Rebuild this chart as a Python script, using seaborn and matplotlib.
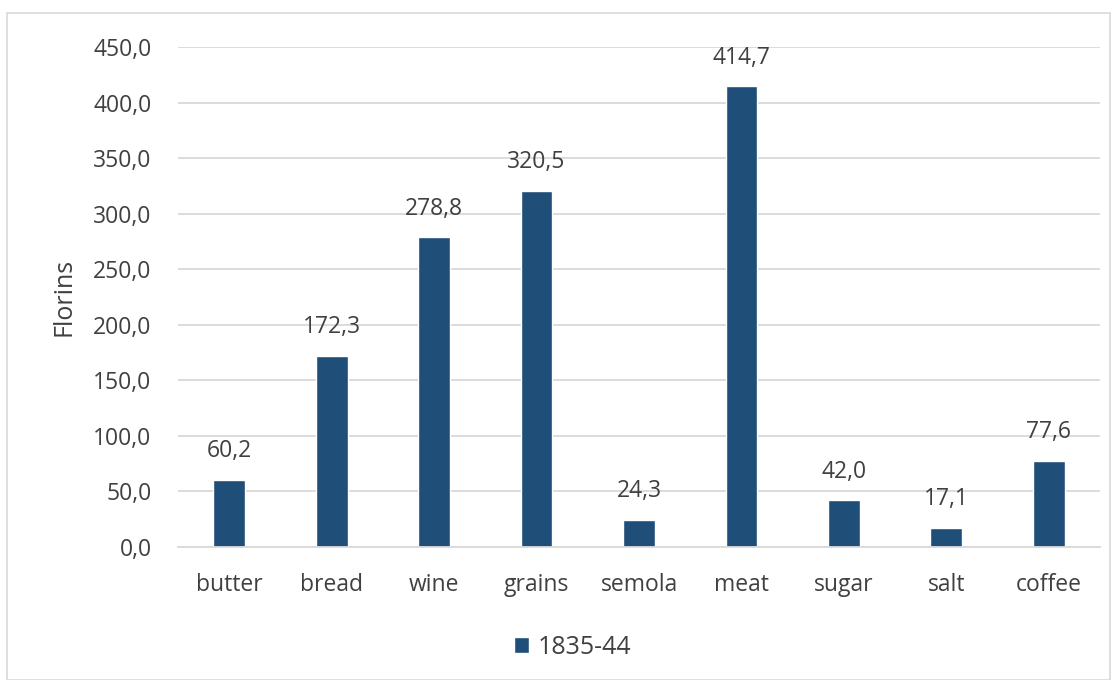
import matplotlib
matplotlib.use("Agg")
import matplotlib.pyplot as plt
import seaborn as sns
import pandas as pd
from matplotlib.patches import Rectangle
from matplotlib.ticker import FuncFormatter

categories = ["butter", "bread", "wine", "grains", "semola", "meat", "sugar", "salt", "coffee"]
values = [60.2, 172.3, 278.8, 320.5, 24.3, 414.7, 42.0, 17.1, 77.6]
series_name = "1835-44"

df = pd.DataFrame({"item": categories, "florins": values})

sns.set_style("white")
plt.rcParams['font.family'] = ['Open Sans', 'DejaVu Sans']
text_color = "#404040"
bar_color = "#1F4E79"
fs = 16.5

fig = plt.figure(figsize=(11.17, 6.8), dpi=100)
ax = fig.add_axes([0.1594, 0.1956, 0.8254, 0.7353])

sns.barplot(data=df, x="item", y="florins", color=bar_color, width=0.31,
            saturation=1, label=series_name, ax=ax)
handles, labels = ax.get_legend_handles_labels()
if ax.get_legend() is not None:
    ax.get_legend().remove()

ax.set_ylim(0, 450)
ax.set_yticks(range(0, 451, 50))
ax.yaxis.set_major_formatter(FuncFormatter(lambda v, p: f"{v:.1f}".replace(".", ",")))
ax.grid(axis="y", color="#d9d9d9", linewidth=1.3)
ax.set_axisbelow(True)
for s in ["top", "right", "left"]:
    ax.spines[s].set_visible(False)
ax.spines["bottom"].set_color("#d9d9d9")
ax.spines["bottom"].set_linewidth(1.3)
ax.tick_params(axis="both", length=0, labelsize=fs, colors=text_color)
ax.tick_params(axis="y", pad=19)
ax.tick_params(axis="x", pad=19)
ax.set_xlabel("")
ax.set_ylabel("Florins", fontsize=fs + 1.5, color=text_color, labelpad=12)

for cont in ax.containers:
    ax.bar_label(cont, labels=[f"{v:.1f}".replace(".", ",") for v in values],
                 padding=12, fontsize=fs, color=text_color)

leg = fig.legend(handles, labels, loc="center", bbox_to_anchor=(0.513, 0.048),
                 frameon=False, fontsize=18, handlelength=0.6, handleheight=0.6, handletextpad=0.35)
for t in leg.get_texts():
    t.set_color(text_color)

fig.patches.append(Rectangle((7 / 1117, 0), 1103 / 1117, 1 - 13 / 680, transform=fig.transFigure,
                             fill=False, edgecolor="#d9d9d9", linewidth=1.2))

fig.savefig("out.png", dpi=100)
